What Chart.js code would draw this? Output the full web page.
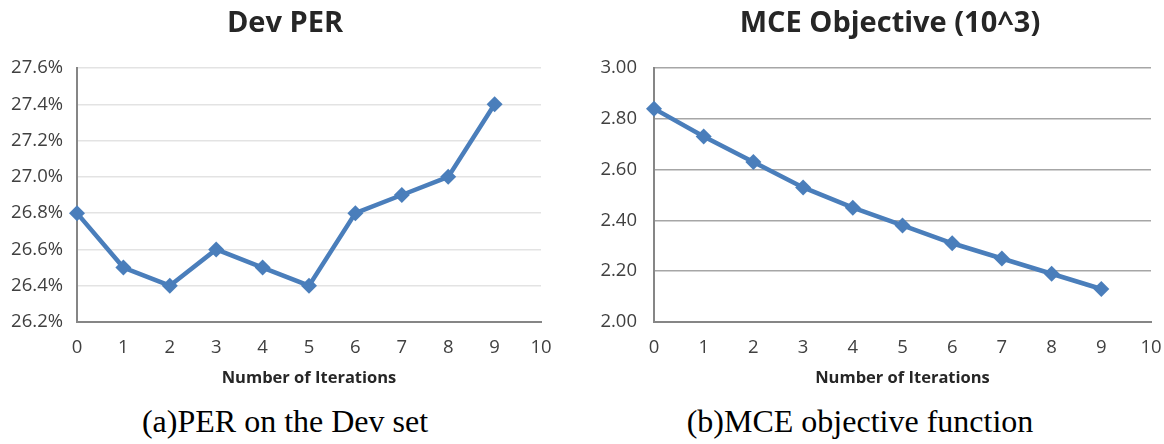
<!DOCTYPE html>
<html>
<head>
<meta charset="utf-8">
<script src="https://cdn.jsdelivr.net/npm/chart.js@4/dist/chart.umd.min.js"></script>
<style>
  html, body { margin: 0; padding: 0; background: #fff; }
  body { width: 1164px; height: 444px; position: relative; overflow: hidden; }
  .box { position: absolute; top: 0; height: 395px; }
  .title { position: absolute; font-family: "Open Sans", sans-serif; font-weight: 700; font-size: 29px;
           color: #262626; white-space: nowrap; transform: translateX(-50%); line-height: 1; top: 6px; }
  .cap { position: absolute; font-family: "Liberation Serif", "Times New Roman", serif; font-size: 32px;
         color: #000; white-space: nowrap; transform: translateX(-50%); line-height: 1; top: 405px; }
</style>
</head>
<body>
<div class="box" style="left:0;width:582px"><canvas id="c1"></canvas></div>
<div class="box" style="left:580px;width:584px"><canvas id="c2"></canvas></div>
<div class="title" style="left:285px">Dev PER</div>
<div class="title" style="left:890px">MCE Objective (10^3)</div>
<div class="cap" style="left:285px">(a)PER on the Dev set</div>
<div class="cap" style="left:860px">(b)MCE objective function</div>
<script>
const iterations = [0, 1, 2, 3, 4, 5, 6, 7, 8, 9];
const devPER = [26.8, 26.5, 26.4, 26.6, 26.5, 26.4, 26.8, 26.9, 27.0, 27.4];
const mceObjective = [2.84, 2.73, 2.63, 2.53, 2.45, 2.38, 2.31, 2.25, 2.19, 2.13];
const xAxisTitle = "Number of Iterations";

const lineColor = "#4a7ebb";
const tickFont = { family: "'Open Sans', sans-serif", size: 18.5 };

function makeChart(id, values, opts) {
  const el = document.getElementById(id);
  el.width = opts.w; el.height = 395;
  el.style.width = opts.w + "px"; el.style.height = "395px";
  return new Chart(el, {
    type: "line",
    data: {
      datasets: [{
        data: iterations.map((x, i) => ({ x: x, y: values[i] })),
        borderColor: lineColor,
        backgroundColor: lineColor,
        borderWidth: 4.5,
        pointStyle: "rectRot",
        pointRadius: 8,
        pointHoverRadius: 8,
        pointBorderWidth: 0,
        tension: 0,
        clip: false
      }]
    },
    options: {
      responsive: false,
      animation: false,
      events: [],
      layout: { padding: { top: 68, right: opts.padRight, left: 0, bottom: 0 } },
      plugins: { legend: { display: false }, tooltip: { enabled: false }, title: { display: false } },
      scales: {
        x: {
          type: "linear", min: 0, max: 10,
          ticks: { stepSize: 1, color: "#404040", font: tickFont, padding: 15, maxRotation: 0 },
          grid: { display: false, drawTicks: false },
          border: { display: true, color: "#868686", width: 2 },
          title: { display: true, text: xAxisTitle, color: "#262626",
                   font: { family: "'Open Sans', sans-serif", size: 16.5, weight: "bold" },
                   padding: { top: 0, bottom: 7 } },
          afterFit: s => { s.height = 73; s.paddingLeft = 0; s.paddingRight = 0; }
        },
        y: {
          min: opts.min, max: opts.max,
          ticks: { stepSize: 0.2, color: "#404040", font: tickFont, padding: opts.yPad,
                   callback: opts.fmt },
          grid: { color: opts.gridColor, lineWidth: opts.gridWidth, drawTicks: false },
          border: { display: true, color: "#868686", width: 2 },
          afterFit: s => { s.width = opts.yWidth; }
        }
      }
    }
  });
}

makeChart("c1", devPER, {
  w: 582, padRight: 41, yWidth: 77, yPad: 14, min: 26.2, max: 27.6,
  gridColor: "#e3e3e3", gridWidth: 1.5,
  fmt: v => v.toFixed(1) + "%"
});
makeChart("c2", mceObjective, {
  w: 584, padRight: 13, yWidth: 74, yPad: 17, min: 2.0, max: 3.0,
  gridColor: "#a6a6a6", gridWidth: 1.5,
  fmt: v => v.toFixed(2)
});
</script>
</body>
</html>
